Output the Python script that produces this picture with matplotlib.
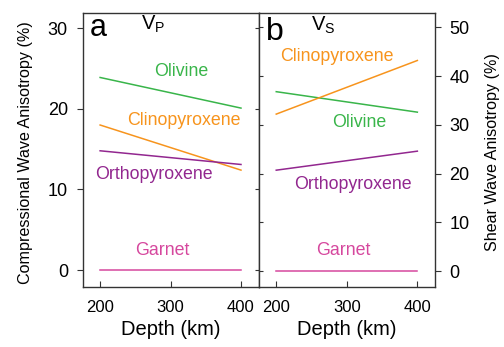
import matplotlib
matplotlib.use("Agg")
from matplotlib import pyplot as plt

plt.rcParams["font.family"] = ["Liberation Sans", "DejaVu Sans"]
plt.rcParams["mathtext.fontset"] = "custom"
plt.rcParams["mathtext.rm"] = "Liberation Sans"

depth = [200, 400]

# compressional wave anisotropy (%)
vp_olivine = [23.9, 20.1]
vp_cpx = [18.0, 12.4]
vp_opx = [14.8, 13.1]
vp_garnet = [0.0, 0.0]

# shear wave anisotropy (%)
vs_olivine = [36.8, 32.6]
vs_cpx = [32.2, 43.2]
vs_opx = [20.7, 24.6]
vs_garnet = [0.0, 0.0]

vp_ticks = [0, 10, 20, 30]
vs_ticks = [0, 10, 20, 30, 40, 50]

GREEN = "#39b54a"
ORANGE = "#f7941d"
PURPLE = "#92278f"
PINK = "#d6489e"
SPINE = "#333333"
LABEL_SIZE = 12.8

W, H = 504, 347
fig = plt.figure(figsize=(W / 100, H / 100), dpi=100)

bottom = 1 - 286.7 / H
height = 274 / H
ax_p = fig.add_axes([82.5 / W, bottom, 176.1 / W, height])
ax_s = fig.add_axes([258.6 / W, bottom, 176.4 / W, height])


def style_axes(ax, yticks):
    for sp in ax.spines.values():
        sp.set_color(SPINE)
        sp.set_linewidth(1.0)
    ax.set_xlim(175, 425)
    ax.set_xticks([200, 300, 400])
    ax.set_yticks(yticks)
    ax.tick_params(axis="x", direction="in", length=4, width=0.8, color=SPINE,
                   labelsize=12, pad=9.5)
    ax.tick_params(axis="y", direction="out", length=4, width=0.8, color=SPINE,
                   labelsize=13, pad=6.5)
    ax.set_xlabel("Depth (km)", fontsize=14.5, labelpad=4)


def inner_ticks(ax, side, ticks):
    # short inward ticks along the shared middle spine
    sec = ax.secondary_yaxis(side)
    sec.set_yticks(ticks)
    sec.tick_params(direction="in", length=3, width=0.8, color=SPINE,
                    labelleft=False, labelright=False)
    sec.spines[:].set_visible(False)


# left panel: Vp
for y, c in [(vp_olivine, GREEN), (vp_cpx, ORANGE), (vp_opx, PURPLE), (vp_garnet, PINK)]:
    ax_p.plot(depth, y, color=c, lw=1.1)
style_axes(ax_p, vp_ticks)
ax_p.set_ylim(-2.07, 31.94)
ax_p.set_ylabel("Compressional Wave Anisotropy (%)", fontsize=11.6)
ax_p.yaxis.set_label_coords(-0.28, 0.49)
ax_p.text(315.6, 24.6, "Olivine", color=GREEN, fontsize=LABEL_SIZE, ha="center", va="center")
ax_p.text(319, 18.6, "Clinopyroxene", color=ORANGE, fontsize=LABEL_SIZE, ha="center", va="center")
ax_p.text(276, 11.9, "Orthopyroxene", color=PURPLE, fontsize=LABEL_SIZE, ha="center", va="center")
ax_p.text(288, 2.4, "Garnet", color=PINK, fontsize=LABEL_SIZE, ha="center", va="center")
ax_p.text(0.042, 0.916, "a", transform=ax_p.transAxes, fontsize=22, ha="left", va="baseline")
ax_p.text(0.335, 0.937, r"V$_\mathregular{P}$", transform=ax_p.transAxes, fontsize=14.5,
          ha="left", va="baseline")
inner_ticks(ax_p, "right", vp_ticks)

# right panel: Vs
for y, c in [(vs_olivine, GREEN), (vs_cpx, ORANGE), (vs_opx, PURPLE), (vs_garnet, PINK)]:
    ax_s.plot(depth, y, color=c, lw=1.1)
style_axes(ax_s, vs_ticks)
ax_s.set_ylim(-3.2, 53.0)
ax_s.yaxis.tick_right()
ax_s.yaxis.set_label_position("right")
ax_s.set_ylabel("Shear Wave Anisotropy (%)", fontsize=11.6)
ax_s.yaxis.set_label_coords(1.283, 0.49)
ax_s.text(285.7, 44.0, "Clinopyroxene", color=ORANGE, fontsize=LABEL_SIZE, ha="center", va="center")
ax_s.text(318, 30.5, "Olivine", color=GREEN, fontsize=LABEL_SIZE, ha="center", va="center")
ax_s.text(308.5, 17.8, "Orthopyroxene", color=PURPLE, fontsize=LABEL_SIZE, ha="center", va="center")
ax_s.text(295, 4.3, "Garnet", color=PINK, fontsize=LABEL_SIZE, ha="center", va="center")
ax_s.text(0.04, 0.900, "b", transform=ax_s.transAxes, fontsize=23, ha="left", va="baseline")
ax_s.text(0.298, 0.933, r"V$_\mathregular{S}$", transform=ax_s.transAxes, fontsize=14.5,
          ha="left", va="baseline")
inner_ticks(ax_s, "left", vs_ticks)

fig.savefig("out.png", dpi=100)
